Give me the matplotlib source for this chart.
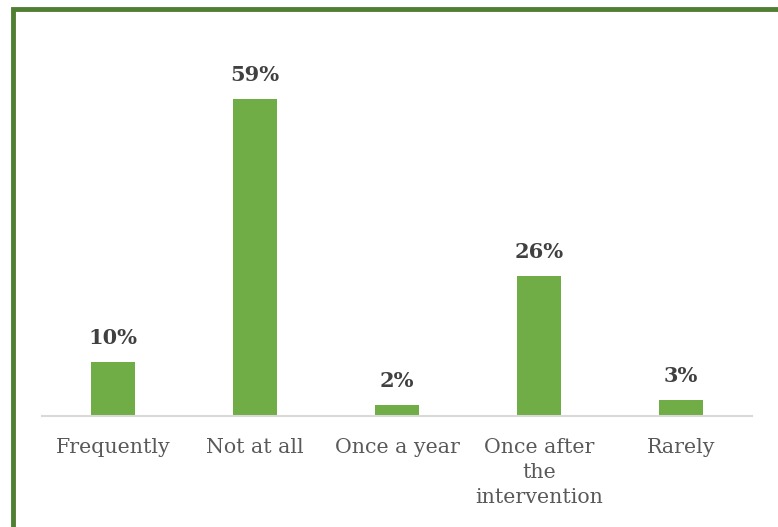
import matplotlib
matplotlib.use("Agg")
import matplotlib.pyplot as plt
from matplotlib.patches import Rectangle

categories = ["Frequently", "Not at all", "Once a year", "Once after\nthe\nintervention", "Rarely"]
values = [10, 59, 2, 26, 3]
value_labels = ["10%", "59%", "2%", "26%", "3%"]

W, H = 778, 527
fig = plt.figure(figsize=(W / 100, H / 100), dpi=100)
fig.patch.set_facecolor("white")

# green frame running off the right and bottom edges
fig.patches.append(Rectangle((13 / W, -0.1), 1.2, (H - 9) / H + 0.1, transform=fig.transFigure,
                             fill=False, edgecolor="#507E32", linewidth=3.5, zorder=0))

left, right = 42 / W, 752 / W
bottom, top = 1 - 416 / H, 1 - 30 / H
ax = fig.add_axes([left, bottom, right - left, top - bottom])

x = range(len(categories))
ax.bar(x, values, width=0.31, color="#70AD47", zorder=2)
ax.set_xlim(-0.5, 4.5)
ax.set_ylim(0, (416 - 30) / 5.37)

for xi, v, lab in zip(x, values, value_labels):
    ax.annotate(lab, (xi, v), xytext=(0, 10), textcoords="offset points",
                ha="center", va="bottom", fontsize=15, fontweight="bold",
                color="#404040", family="DejaVu Serif")

ax.set_xticks(list(x))
ax.set_xticklabels(categories, fontsize=14.8, color="#595959", family="DejaVu Serif",
                   linespacing=1.42, va="top")
ax.tick_params(axis="x", length=0, pad=15.5)
ax.set_yticks([])
for s in ["top", "right", "left"]:
    ax.spines[s].set_visible(False)
ax.spines["bottom"].set_color("#D9D9D9")
ax.spines["bottom"].set_linewidth(1.5)
ax.set_facecolor("none")

fig.savefig("out.png", dpi=100)
